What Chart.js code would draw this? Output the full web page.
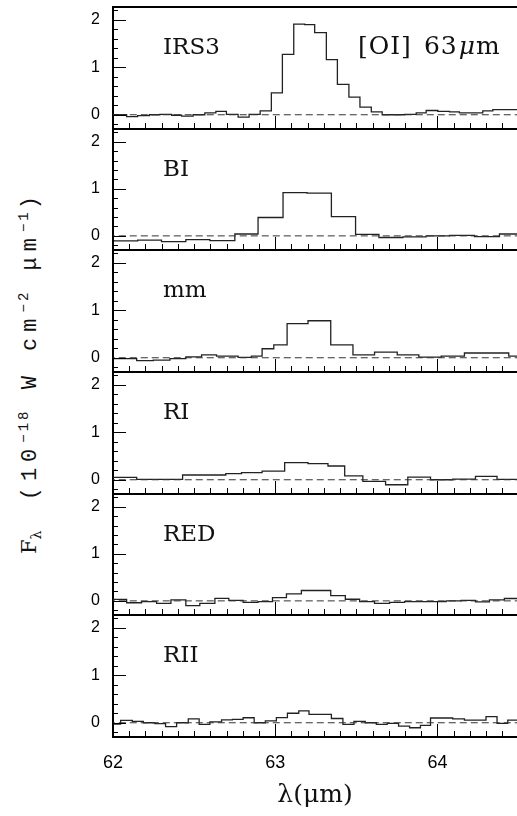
<!DOCTYPE html>
<html>
<head>
<meta charset="utf-8">
<script src="https://cdn.jsdelivr.net/npm/chart.js@4.4.0/dist/chart.umd.min.js"></script>
<style>
  html, body { margin: 0; padding: 0; background: #fff; }
  body { width: 517px; height: 816px; position: relative; overflow: hidden; }
  canvas { position: absolute; left: 0; }
  #ytitle {
    position: absolute; left: 30px; top: 372px;
    transform: translate(-50%, -50%) rotate(-90deg);
    white-space: nowrap; color: #111;
    font-family: 'Liberation Mono', monospace; font-size: 22px; letter-spacing: 6px;
  }
  #ytitle .f { font-family: 'DejaVu Serif', serif; letter-spacing: 0; font-size: 21px; margin-right: 8px; }
  #ytitle sup, #ytitle sub { font-size: 14px; letter-spacing: 3px; }
</style>
</head>
<body>
<div id="ytitle"><span class="f">F<sub>λ</sub></span> (10<sup>−18</sup> W cm<sup>−2</sup> μm<sup>−1</sup>)</div>
<script>
// --- data: step starts (µm) and flux (1e-18 W cm-2 µm-1) ---
const panelNames = ['IRS3', 'BI', 'mm', 'RI', 'RED', 'RII'];
const xTickLabels = [62, 63, 64];
const yTickLabels = [0, 1, 2];
const zeroLevel = 0;

const lamIRS3 = [61.949, 62.018, 62.084, 62.152, 62.224, 62.289, 62.361, 62.423, 62.494, 62.566, 62.634, 62.699, 62.771, 62.839, 62.907, 62.976, 63.044, 63.114, 63.182, 63.243, 63.315, 63.383, 63.454, 63.522, 63.592, 63.659, 63.725, 63.797, 63.869, 63.930, 64.002, 64.074, 64.135, 64.207, 64.279, 64.341, 64.412, 64.55];
const fluxIRS3 = [0.00, 0.00, -0.04, -0.02, 0.00, 0.01, -0.01, -0.03, 0.00, 0.04, 0.07, 0.01, -0.05, 0.01, 0.08, 0.46, 1.27, 1.91, 1.90, 1.73, 1.16, 0.64, 0.37, 0.16, 0.06, 0.00, 0.00, 0.01, 0.04, 0.09, 0.07, 0.06, 0.04, 0.04, 0.08, 0.11, 0.11, 0.11];

const lamBI = [61.858, 62.005, 62.152, 62.299, 62.449, 62.597, 62.751, 62.894, 63.048, 63.196, 63.346, 63.495, 63.639, 63.787, 63.930, 64.074, 64.228, 64.382, 64.55];
const fluxBI = [-0.10, -0.105, -0.09, -0.12, -0.08, -0.10, 0.04, 0.39, 0.92, 0.91, 0.41, 0.03, -0.035, -0.02, 0.00, 0.01, -0.015, 0.04, 0.04];

const lamMM = [61.95, 62.146, 62.248, 62.351, 62.449, 62.546, 62.638, 62.771, 62.853, 62.919, 62.991, 63.073, 63.202, 63.342, 63.479, 63.612, 63.752, 63.885, 64.023, 64.166, 64.439, 64.55];
const fluxMM = [-0.02, -0.06, -0.05, -0.02, 0.02, 0.06, 0.035, 0.01, 0.035, 0.19, 0.27, 0.72, 0.78, 0.27, 0.06, 0.12, 0.06, 0.015, 0.035, 0.10, 0.035, 0.035];

const lamRI = [61.95, 62.146, 62.429, 62.695, 62.792, 62.919, 63.058, 63.202, 63.325, 63.428, 63.540, 63.680, 63.817, 63.957, 64.094, 64.234, 64.367, 64.55];
const fluxRI = [0.05, 0.01, 0.10, 0.13, 0.15, 0.18, 0.36, 0.34, 0.29, 0.08, -0.035, -0.105, 0.055, 0.0, 0.015, 0.07, 0.01, 0.01];

const lamRED = [61.95, 62.084, 62.176, 62.269, 62.357, 62.449, 62.535, 62.628, 62.714, 62.802, 62.894, 62.983, 63.069, 63.161, 63.342, 63.432, 63.520, 63.612, 63.705, 63.797, 64.053, 64.146, 64.234, 64.320, 64.412, 64.55];
const fluxRED = [0.03, -0.04, -0.015, -0.055, 0.02, -0.10, -0.055, 0.055, 0.01, -0.03, -0.015, 0.07, 0.15, 0.22, 0.11, 0.035, -0.015, -0.055, -0.03, -0.015, 0.0, 0.01, -0.02, 0.02, 0.05, 0.05];

const lamRII = [61.95, 62.047, 62.119, 62.187, 62.258, 62.324, 62.392, 62.464, 62.531, 62.597, 62.669, 62.736, 62.802, 62.870, 62.939, 63.007, 63.075, 63.145, 63.208, 63.346, 63.417, 63.485, 63.555, 63.623, 63.690, 63.760, 63.828, 63.895, 63.957, 64.094, 64.166, 64.299, 64.367, 64.433, 64.55];
const fluxRII = [-0.03, 0.05, 0.03, 0.0, -0.02, -0.08, 0.0, 0.08, -0.035, 0.02, 0.06, 0.07, 0.105, 0.0, 0.04, 0.11, 0.20, 0.25, 0.175, 0.09, -0.035, 0.03, 0.0, -0.035, -0.015, -0.07, -0.105, -0.055, 0.10, 0.08, 0.055, 0.13, -0.015, 0.055, 0.055];

const series = [[lamIRS3, fluxIRS3], [lamBI, fluxBI], [lamMM, fluxMM], [lamRI, fluxRI], [lamRED, fluxRED], [lamRII, fluxRII]];

// layout of the six stacked panels (pixel tops/bottoms of the plot areas)
const panelTop = [7, 129, 250, 372, 494, 615];
const panelBottom = [129, 250, 372, 494, 615, 737];
const PAD = 10;
const X_MIN = 62, X_MAX = 64.49, Y_MIN = -0.3, Y_MAX = 2.27;

// inner tick marks, top frame line and the panel labels
const panelDeco = {
  id: 'panelDeco',
  afterDraw(chart, args, opts) {
    const { ctx, chartArea: a, scales: { x, y } } = chart;
    ctx.save();
    ctx.strokeStyle = '#000';
    ctx.lineWidth = 1;
    ctx.beginPath();
    for (let i = 0; i <= 25; i++) {
      const v = X_MIN + i / 10;
      if (v > X_MAX) break;
      const px = Math.round(x.getPixelForValue(v)) + 0.5;
      const len = i % 10 === 0 ? 13 : 6;
      ctx.moveTo(px, a.bottom);
      ctx.lineTo(px, a.bottom - len);
    }
    for (let j = -1; j <= 11; j++) {
      const py = Math.round(y.getPixelForValue(j * 0.2)) + 0.5;
      const len = j % 5 === 0 ? 13 : 5;
      ctx.moveTo(a.left, py);
      ctx.lineTo(a.left + len, py);
    }
    ctx.stroke();

    ctx.lineWidth = 2;
    ctx.beginPath();
    ctx.moveTo(a.left - 1, a.top);
    ctx.lineTo(a.right, a.top);
    ctx.stroke();

    ctx.fillStyle = '#111';
    ctx.textBaseline = 'alphabetic';
    ctx.font = '23px "DejaVu Serif"';
    ctx.fillText(opts.label, 163, a.top + 47);
    if (opts.note) {
      ctx.letterSpacing = '1px';
      ctx.font = '25px "DejaVu Serif"';
      let tx = 358;
      ctx.fillText('[OI]', tx, a.top + 47);
      tx += ctx.measureText('[OI]').width + 12;
      ctx.fillText('63', tx, a.top + 47);
      tx += ctx.measureText('63').width + 1;
      ctx.font = 'italic 25px "DejaVu Serif"';
      ctx.fillText('μ', tx, a.top + 47);
      tx += ctx.measureText('μ').width;
      ctx.font = '25px "DejaVu Serif"';
      ctx.fillText('m', tx, a.top + 47);
      ctx.letterSpacing = '0px';
    }
    ctx.restore();
  }
};

panelNames.forEach((name, i) => {
  const last = i === panelNames.length - 1;
  const cv = document.createElement('canvas');
  const top = panelTop[i] - PAD;
  const h = last ? 816 - top : panelBottom[i] - panelTop[i] + 2 * PAD;
  cv.width = 517; cv.height = h;
  cv.style.top = top + 'px';
  cv.style.width = '517px'; cv.style.height = h + 'px';
  document.body.appendChild(cv);

  const [lam, flux] = series[i];
  const pts = lam.map((l, k) => ({ x: l, y: flux[k] }));

  new Chart(cv, {
    type: 'line',
    data: {
      datasets: [
        {
          data: [{ x: 61.9, y: zeroLevel }, { x: 64.6, y: zeroLevel }],
          borderColor: '#333', borderWidth: 1, borderDash: [7, 4],
          pointRadius: 0, fill: false
        },
        {
          // each flux value holds from its own step start to the next one
          data: pts,
          stepped: 'before',
          borderColor: '#222', borderWidth: 1.3,
          pointRadius: 0, fill: false
        }
      ]
    },
    options: {
      responsive: false,
      animation: false,
      devicePixelRatio: 1,
      layout: { padding: { top: PAD, bottom: last ? 0 : PAD, left: 0, right: 0 } },
      plugins: {
        legend: { display: false },
        tooltip: { enabled: false },
        panelDeco: { label: name, note: i === 0 }
      },
      scales: {
        x: {
          type: 'linear', min: X_MIN, max: X_MAX,
          grid: { display: false, drawTicks: false },
          border: { display: true, color: '#000', width: 2 },
          afterBuildTicks: s => { s.ticks = xTickLabels.map(v => ({ value: v })); },
          ticks: {
            display: last, autoSkip: false, maxRotation: 0, padding: 15,
            color: '#000', font: { family: 'Liberation Sans', size: 18 },
            callback: v => String(v)
          },
          title: {
            display: last, text: 'λ(μm)', color: '#111',
            font: { family: 'DejaVu Serif', size: 25 },
            padding: { top: 0, bottom: 6 }
          },
          afterFit: s => { s.height = last ? 816 - panelBottom[i] : 0; }
        },
        y: {
          type: 'linear', min: Y_MIN, max: Y_MAX,
          grid: { display: false, drawTicks: false },
          border: { display: true, color: '#000', width: 2 },
          afterBuildTicks: s => { s.ticks = yTickLabels.map(v => ({ value: v })); },
          ticks: {
            padding: 13, color: '#000',
            font: { family: 'Liberation Sans', size: 16 },
            callback: v => String(v)
          },
          afterFit: s => { s.width = 113; s.paddingTop = 0; s.paddingBottom = 0; }
        }
      }
    },
    plugins: [panelDeco]
  });
});
</script>
</body>
</html>
